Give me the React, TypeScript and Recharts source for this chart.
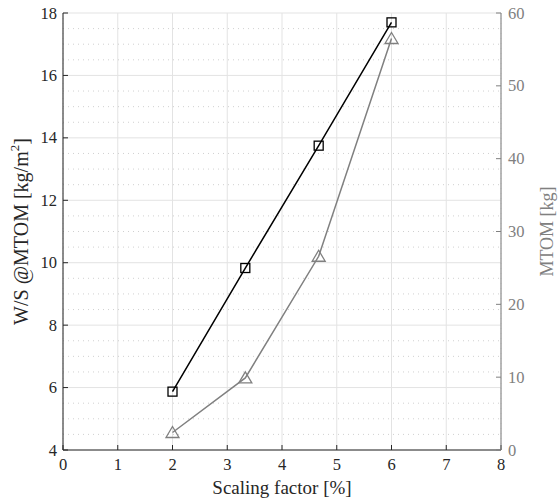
import { LineChart, Line, XAxis, YAxis, CartesianGrid, Label, ReferenceLine } from 'recharts';

// scaling factor [%]
const scalingFactor = [2, 3.33, 4.67, 6];
// wing loading at MTOM [kg/m²]
const wingLoading = [5.87, 9.83, 13.75, 17.7];
// MTOM [kg]
const mtom = [2.4, 9.9, 26.6, 56.5];

const xTicks = [0, 1, 2, 3, 4, 5, 6, 7, 8];
const leftTicks = [4, 6, 8, 10, 12, 14, 16, 18];
const rightTicks = [0, 10, 20, 30, 40, 50, 60];

// minor grid steps
const xMinorTicks = Array.from({ length: 41 }, (_, i) => +(i * 0.2).toFixed(1));
const yMinorTicks = Array.from({ length: 29 }, (_, i) => 4 + i * 0.5).filter(
  (v) => v % 2 !== 0,
);

const data = scalingFactor.map((s, i) => ({
  s,
  ws: wingLoading[i],
  mtom: mtom[i],
}));

const FONT = 'Liberation Serif';
const DARK = '#262626';
const GREY = '#808080';
const MINOR = '#c4c4c4';

const makeTick = (color: string, anchor: 'start' | 'middle' | 'end', dy: number) =>
  (props: any) => {
    const { x, y, payload } = props;
    return (
      <text x={x} y={y} dy={dy} textAnchor={anchor} fill={color} fontSize={16.5} fontFamily={FONT}>
        {payload.value}
      </text>
    );
  };

const SquareDot = (props: any) => {
  const { cx, cy, index } = props;
  return (
    <rect
      key={`sq-${index}`}
      x={cx - 4.5}
      y={cy - 4.5}
      width={9}
      height={9}
      fill="none"
      stroke="#000"
      strokeWidth={1.3}
    />
  );
};

const TriangleDot = (props: any) => {
  const { cx, cy, index } = props;
  return (
    <path
      key={`tr-${index}`}
      d={`M${cx},${cy - 6} L${cx + 6.5},${cy + 5} L${cx - 6.5},${cy + 5} Z`}
      fill="none"
      stroke={GREY}
      strokeWidth={1.3}
    />
  );
};

export default function App() {
  return (
    <div style={{ position: 'absolute', left: 0, top: 0, background: '#fff' }}>
      <LineChart
        width={560}
        height={502}
        data={data}
        margin={{ top: 13, right: 0, bottom: 0, left: 0 }}
      >
        <XAxis
          xAxisId="minorX"
          type="number"
          dataKey="s"
          domain={[0, 8]}
          ticks={xMinorTicks}
          height={0}
          axisLine={false}
          tickLine={false}
          tick={false}
        />
        <CartesianGrid
          xAxisId="minorX"
          yAxisId="left"
          horizontal={false}
          stroke={MINOR}
          strokeDasharray="1 4"
          strokeWidth={0.8}
        />
        {yMinorTicks.map((v) => (
          <ReferenceLine
            key={`minor-${v}`}
            xAxisId="main"
            yAxisId="left"
            y={v}
            stroke={MINOR}
            strokeDasharray="1 4"
            strokeWidth={0.8}
          />
        ))}
        <CartesianGrid xAxisId="main" yAxisId="left" stroke="#e3e3e3" strokeWidth={1} />

        <XAxis
          xAxisId="main"
          type="number"
          dataKey="s"
          domain={[0, 8]}
          ticks={xTicks}
          height={52}
          stroke={DARK}
          tickSize={-5}
          tickMargin={14}
          tick={makeTick(DARK, 'middle', 11)}
        >
          <Label
            content={({ viewBox }: any) => (
              <text
                x={viewBox.x + viewBox.width / 2}
                y={viewBox.y + 44}
                textAnchor="middle"
                fill={DARK}
                fontSize={19}
                fontFamily={FONT}
              >
                Scaling factor [%]
              </text>
            )}
          />
        </XAxis>
        <YAxis
          yAxisId="left"
          orientation="left"
          type="number"
          domain={[4, 18]}
          ticks={leftTicks}
          width={63}
          stroke={DARK}
          tickSize={-5}
          tickMargin={11}
          tick={makeTick(DARK, 'end', 5.5)}
        >
          <Label
            content={({ viewBox }: any) => {
              const x = viewBox.x + 21;
              const y = viewBox.y + viewBox.height / 2;
              return (
                <text
                  x={x}
                  y={y}
                  transform={`rotate(-90 ${x} ${y})`}
                  textAnchor="middle"
                  dominantBaseline="central"
                  fill={DARK}
                  fontSize={20}
                  fontFamily={FONT}
                >
                  W/S @MTOM [kg/m
                  <tspan dy={-7} fontSize={13}>2</tspan>
                  <tspan dy={7}>]</tspan>
                </text>
              );
            }}
          />
        </YAxis>
        <YAxis
          yAxisId="right"
          orientation="right"
          type="number"
          domain={[0, 60]}
          ticks={rightTicks}
          width={59}
          stroke={GREY}
          tickSize={-5}
          tickMargin={12}
          tick={makeTick(GREY, 'start', 5.5)}
        >
          <Label
            content={({ viewBox }: any) => {
              const x = viewBox.x + 46;
              const y = viewBox.y + viewBox.height / 2;
              return (
                <text
                  x={x}
                  y={y}
                  transform={`rotate(-90 ${x} ${y})`}
                  textAnchor="middle"
                  dominantBaseline="central"
                  fill={GREY}
                  fontSize={18}
                  fontFamily={FONT}
                >
                  MTOM [kg]
                </text>
              );
            }}
          />
        </YAxis>

        <Line
          xAxisId="main"
          yAxisId="left"
          type="linear"
          dataKey="ws"
          stroke="#000"
          strokeWidth={1.5}
          dot={SquareDot}
          activeDot={false}
          isAnimationActive={false}
        />
        <Line
          xAxisId="main"
          yAxisId="right"
          type="linear"
          dataKey="mtom"
          stroke={GREY}
          strokeWidth={1.5}
          dot={TriangleDot}
          activeDot={false}
          isAnimationActive={false}
        />
      </LineChart>
    </div>
  );
}
